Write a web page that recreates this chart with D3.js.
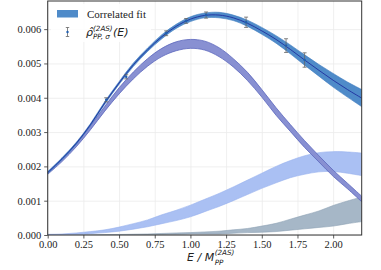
<!DOCTYPE html>
<html>
<head>
<meta charset="utf-8">
<style>
body { margin: 0; background: #fff; }
.tick text { font-family: "Liberation Serif", serif; font-size: 10.5px; fill: #222; }
.grid line { stroke: #ebebeb; stroke-width: 0.8; }
.grid .domain { display: none; }
</style>
</head>
<body>
<svg width="381" height="270"></svg>
<script src="https://cdnjs.cloudflare.com/ajax/libs/d3/7.8.5/d3.min.js"></script>
<script>
// energy grid (E / M) for the bands
var energy = [0.0, 0.1, 0.2, 0.3, 0.4, 0.5, 0.6, 0.7, 0.8, 0.9, 1.0, 1.1,
              1.2, 1.3, 1.4, 1.5, 1.6, 1.7, 1.8, 1.9, 2.0, 2.1, 2.2];

// correlated fit (total)
var fitMid = [0.00182, 0.00222, 0.00267, 0.00322, 0.00385, 0.00443, 0.00496, 0.00540,
              0.00578, 0.00608, 0.00629, 0.00640, 0.00641, 0.00633, 0.00617, 0.00595,
              0.00570, 0.00541, 0.00510, 0.00480, 0.00451, 0.00424, 0.00399];
var fitErr = [0.00003, 0.00003, 0.00003, 0.00003, 0.00004, 0.00004, 0.00005, 0.00005,
              0.00006, 0.00006, 0.00007, 0.00007, 0.00008, 0.00008, 0.00009, 0.00010,
              0.00011, 0.00013, 0.00015, 0.00017, 0.00020, 0.00022, 0.00025];

// first state
var s1Mid = [0.00180, 0.00218, 0.00262, 0.00313, 0.00368, 0.00420, 0.00465, 0.00503,
             0.00532, 0.00550, 0.00557, 0.00552, 0.00533, 0.00502, 0.00462, 0.00413,
             0.00360, 0.00312, 0.00265, 0.00222, 0.00180, 0.00143, 0.00105];
var s1Err = [0.00003, 0.00004, 0.00005, 0.00006, 0.00007, 0.00009, 0.00010, 0.00011,
             0.00012, 0.00013, 0.00013, 0.00013, 0.00013, 0.00012, 0.00012, 0.00011,
             0.00011, 0.00010, 0.00010, 0.00009, 0.00009, 0.00008, 0.00008];

// second state
var s2Mid = [0.00001, 0.00002, 0.00004, 0.00007, 0.00011, 0.00017, 0.00025, 0.00034,
             0.00046, 0.00057, 0.00070, 0.00086, 0.00102, 0.00120, 0.00139, 0.00158,
             0.00176, 0.00192, 0.00204, 0.00212, 0.00214, 0.00211, 0.00206];
var s2Err = [0.00001, 0.00001, 0.00002, 0.00003, 0.00004, 0.00006, 0.00008, 0.00010,
             0.00013, 0.00015, 0.00017, 0.00018, 0.00019, 0.00020, 0.00021, 0.00022,
             0.00024, 0.00025, 0.00027, 0.00028, 0.00029, 0.00031, 0.00033];

// third state
var s3Mid = [0.0, 0.0, 0.0, 0.0, 0.000005, 0.00001, 0.000015, 0.00002,
             0.00003, 0.00004, 0.00005, 0.00006, 0.00007, 0.00010, 0.00013, 0.00017,
             0.00022, 0.00030, 0.00038, 0.00046, 0.00056, 0.00066, 0.00075];
var s3Err = [0.0, 0.0, 0.0, 0.0, 0.000003, 0.000005, 0.000008, 0.00001,
             0.000015, 0.00002, 0.00002, 0.00003, 0.00004, 0.00005, 0.00006, 0.00009,
             0.00012, 0.00016, 0.00020, 0.00024, 0.00030, 0.00033, 0.00036];

// measured points
var ptE   = [0.41, 0.55, 0.83, 0.97, 1.11, 1.39, 1.67, 1.80];
var ptRho = [0.00394, 0.00461, 0.00588, 0.00624, 0.00641, 0.00620, 0.00552, 0.00510];
var ptErr = [0.00006, 0.00006, 0.00007, 0.00007, 0.00009, 0.00015, 0.00020, 0.00021];

var xTicks = [0, 0.25, 0.5, 0.75, 1.0, 1.25, 1.5, 1.75, 2.0];
var yTicks = [0, 0.001, 0.002, 0.003, 0.004, 0.005, 0.006];

var svg = d3.select("svg");
var pLeft = 47.7, pRight = 361.7, pTop = 1, pBottom = 235;

var x = d3.scaleLinear().domain([0, 2.2]).range([pLeft, pRight]);
var y = d3.scaleLinear().domain([0, 0.00682]).range([pBottom, pTop]);

// grid
svg.append("g").attr("class", "grid")
    .attr("transform", "translate(0," + pBottom + ")")
    .call(d3.axisBottom(x).tickValues(xTicks).tickSize(-(pBottom - pTop)).tickFormat(""));
svg.append("g").attr("class", "grid")
    .attr("transform", "translate(" + pLeft + ",0)")
    .call(d3.axisLeft(y).tickValues(yTicks).tickSize(-(pRight - pLeft)).tickFormat(""));

function band(mid, err) {
  return d3.area()
    .x(function(d, i) { return x(energy[i]); })
    .y0(function(d, i) { return y(mid[i] - err[i]); })
    .y1(function(d, i) { return y(mid[i] + err[i]); })
    .curve(d3.curveCatmullRom)(energy);
}

svg.append("clipPath").attr("id", "clip").append("rect")
    .attr("x", pLeft).attr("y", pTop).attr("width", pRight - pLeft).attr("height", pBottom - pTop);

var plot = svg.append("g").attr("clip-path", "url(#clip)");

plot.append("path").attr("d", band(s3Mid, s3Err))
    .attr("fill", "#a6b7c7").attr("stroke", "#8fa3b6").attr("stroke-width", 0.6);
plot.append("path").attr("d", band(s2Mid, s2Err))
    .attr("fill", "#aac0f3").attr("stroke", "#98b2ee").attr("stroke-width", 0.6);
plot.append("path").attr("d", band(s1Mid, s1Err))
    .attr("fill", "#8890d2").attr("stroke", "#5b66bd").attr("stroke-width", 0.8);
plot.append("path").attr("d", band(fitMid, fitErr))
    .attr("fill", "#4f8bc9").attr("stroke", "#3f7cc0").attr("stroke-width", 0.6);

var line = d3.line()
    .x(function(d, i) { return x(energy[i]); })
    .y(function(d, i) { return y(fitMid[i]); })
    .curve(d3.curveCatmullRom);
plot.append("path").attr("d", line(energy))
    .attr("fill", "none").attr("stroke", "#1f2f9e").attr("stroke-width", 0.9);

// error bars
var pts = plot.append("g").selectAll("g").data(ptE).enter().append("g");
pts.append("line")
    .attr("x1", function(d) { return x(d); }).attr("x2", function(d) { return x(d); })
    .attr("y1", function(d, i) { return y(ptRho[i] - ptErr[i]); })
    .attr("y2", function(d, i) { return y(ptRho[i] + ptErr[i]); })
    .attr("stroke", "#666").attr("stroke-width", 0.8);
[-1, 1].forEach(function(s) {
  pts.append("line")
      .attr("x1", function(d) { return x(d) - 2; }).attr("x2", function(d) { return x(d) + 2; })
      .attr("y1", function(d, i) { return y(ptRho[i] + s * ptErr[i]); })
      .attr("y2", function(d, i) { return y(ptRho[i] + s * ptErr[i]); })
      .attr("stroke", "#666").attr("stroke-width", 0.8);
});
pts.append("circle")
    .attr("cx", function(d) { return x(d); })
    .attr("cy", function(d, i) { return y(ptRho[i]); })
    .attr("r", 1.2).attr("fill", "#1f5fb0");

// axes
var xAxis = svg.append("g")
    .attr("transform", "translate(0," + pBottom + ")")
    .call(d3.axisBottom(x).tickValues(xTicks).tickSize(3.5).tickPadding(2)
      .tickFormat(d3.format(".2f")));
var yAxis = svg.append("g")
    .attr("transform", "translate(" + pLeft + ",0)")
    .call(d3.axisLeft(y).tickValues(yTicks).tickSize(3.5).tickPadding(3)
      .tickFormat(d3.format(".3f")));
[xAxis, yAxis].forEach(function(a) {
  a.select(".domain").remove();
  a.selectAll(".tick line").attr("stroke", "#333").attr("stroke-width", 0.8);
});

svg.append("rect")
    .attr("x", pLeft).attr("y", pTop).attr("width", pRight - pLeft).attr("height", pBottom - pTop)
    .attr("fill", "none").attr("stroke", "#333").attr("stroke-width", 1);

// legend
var lg = svg.append("g");
lg.append("rect").attr("x", 51).attr("y", 4).attr("width", 100).attr("height", 38)
    .attr("fill", "#fff").attr("opacity", 0.85);
lg.append("rect").attr("x", 57).attr("y", 10).attr("width", 21).attr("height", 7.5)
    .attr("fill", "#4f8bc9");
lg.append("text").attr("x", 87).attr("y", 18)
    .style("font-family", "Liberation Serif, serif").style("font-size", "11px")
    .attr("fill", "#222").text("Correlated fit");
lg.append("line").attr("x1", 67.5).attr("x2", 67.5).attr("y1", 27.5).attr("y2", 36.5)
    .attr("stroke", "#666").attr("stroke-width", 0.8);
lg.append("line").attr("x1", 65.8).attr("x2", 69.2).attr("y1", 27.5).attr("y2", 27.5)
    .attr("stroke", "#666").attr("stroke-width", 0.8);
lg.append("line").attr("x1", 65.8).attr("x2", 69.2).attr("y1", 36.5).attr("y2", 36.5)
    .attr("stroke", "#666").attr("stroke-width", 0.8);
lg.append("circle").attr("cx", 67.5).attr("cy", 32).attr("r", 1.2).attr("fill", "#1f5fb0");

var mathFont = "DejaVu Sans, sans-serif";
function mtext(g, tx, ty, size, str) {
  return g.append("text").attr("x", tx).attr("y", ty)
    .style("font-family", mathFont).style("font-style", "italic")
    .style("font-size", size + "px").attr("fill", "#222").text(str);
}
mtext(lg, 86, 36, 11, "\u03c1\u0302");
mtext(lg, 93, 30.5, 7.2, "(2AS)");
mtext(lg, 93, 38.5, 7.2, "PP, \u03c3");
mtext(lg, 113, 36, 11, "(E)");

// x label
var xl = svg.append("g");
var main = mtext(xl, 187, 261, 11, "E / M");
var w = main.node().getComputedTextLength();
mtext(xl, 187 + w + 0.5, 255, 7.2, "(2AS)");
mtext(xl, 187 + w + 0.5, 265, 7.2, "PP");
</script>
</body>
</html>
